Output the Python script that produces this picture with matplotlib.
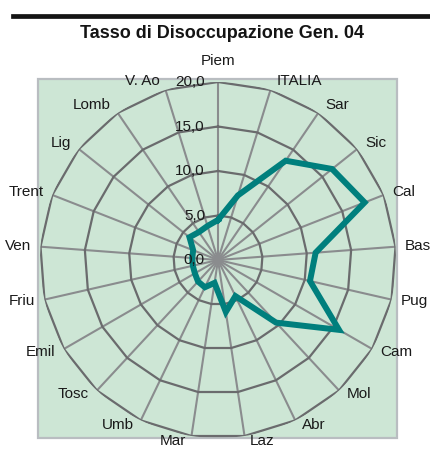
import numpy as np
import matplotlib
matplotlib.use("Agg")
import matplotlib.pyplot as plt
from matplotlib.patches import Rectangle
from matplotlib.lines import Line2D

categories = ["Piem", "ITALIA", "Sar", "Sic", "Cal", "Bas", "Pug", "Cam", "Mol",
              "Abr", "Laz", "Mar", "Umb", "Tosc", "Emil", "Friu", "Ven", "Trent",
              "Lig", "Lomb", "V. Ao"]
values = [4.5, 7.6, 13.5, 16.4, 17.7, 11.0, 10.6, 15.7, 9.6,
          4.5, 5.9, 2.6, 3.4, 3.3, 3.0, 2.9, 2.9, 3.0,
          4.1, 3.8, 4.0]
ring_values = [5, 10, 15, 20]
tick_values = [0, 5, 10, 15, 20]
tick_labels = ["0,0", "5,0", "10,0", "15,0", "20,0"]
title = "Tasso di Disoccupazione Gen. 04"

plt.rcParams['font.family'] = ['Liberation Sans', 'DejaVu Sans']

W, H = 430, 449
fig = plt.figure(figsize=(W / 100, H / 100), dpi=100)

# plot-area background
bg = Rectangle((38 / W, 1 - 438 / H), 359 / W, 359 / H,
               transform=fig.transFigure, facecolor="#cde6d5",
               edgecolor="#b9bdc1", linewidth=1.6, zorder=-10)
fig.patches.append(bg)
# thick rule above title
fig.lines.append(Line2D([13 / W, 1.0], [1 - 16 / H, 1 - 16 / H],
                        transform=fig.transFigure, color="#141414", linewidth=3.4,
                        zorder=-5))
fig.text(221.5 / W, 1 - 34 / H, title, ha="center", va="center",
         fontsize=13, fontweight="bold", color="#141414")

cx, cy, R = 218, 260, 178
ax = fig.add_axes([(cx - R) / W, 1 - (cy + R) / H, 2 * R / W, 2 * R / H],
                  projection="polar")
ax.set_zorder(1)
ax.set_theta_zero_location("N")
ax.set_theta_direction(-1)
ax.set_ylim(0, 20)
ax.grid(False)
ax.set_xticks([])
ax.set_yticks([])
ax.spines["polar"].set_visible(False)
ax.patch.set_alpha(0)

n = len(categories)
theta = np.arange(n) * 2 * np.pi / n
theta_closed = np.append(theta, theta[0])

# spokes
for t in theta:
    ax.plot([t, t], [0, 20], color="#8a8c8e", linewidth=1.5, zorder=1,
            solid_capstyle="butt")
# polygon rings
for r in ring_values:
    ax.plot(theta_closed, [r] * (n + 1), color="#6a6b6d", linewidth=1.6, zorder=2)

# data
vals_closed = np.append(values, values[0])
ax.plot(theta_closed, vals_closed, color="#007f7d", linewidth=4.3, zorder=3,
        solid_joinstyle="miter")

# radial tick labels
for v, lab in zip(tick_values, tick_labels):
    ax.annotate(lab, xy=(0, v), xytext=(-13, 0), textcoords="offset pixels",
                ha="right", va="center", fontsize=11, color="#1a1a1a", zorder=4,
                annotation_clip=False)

# category labels
for t, lab in zip(theta, categories):
    s, c = np.sin(t), np.cos(t)
    if abs(s) < 0.01:
        dx, dy, ha = 0, 21, "center"
    else:
        dx = np.sign(s) * (5 + 4 * abs(s))
        dy = 9 * c if c > 0 else 5 * c
        ha = "left" if s > 0 else "right"
    ax.annotate(lab, xy=(t, 20), xytext=(dx, dy), textcoords="offset pixels",
                ha=ha, va="center", fontsize=11, color="#1a1a1a",
                annotation_clip=False)

fig.savefig("out.png", dpi=100)
